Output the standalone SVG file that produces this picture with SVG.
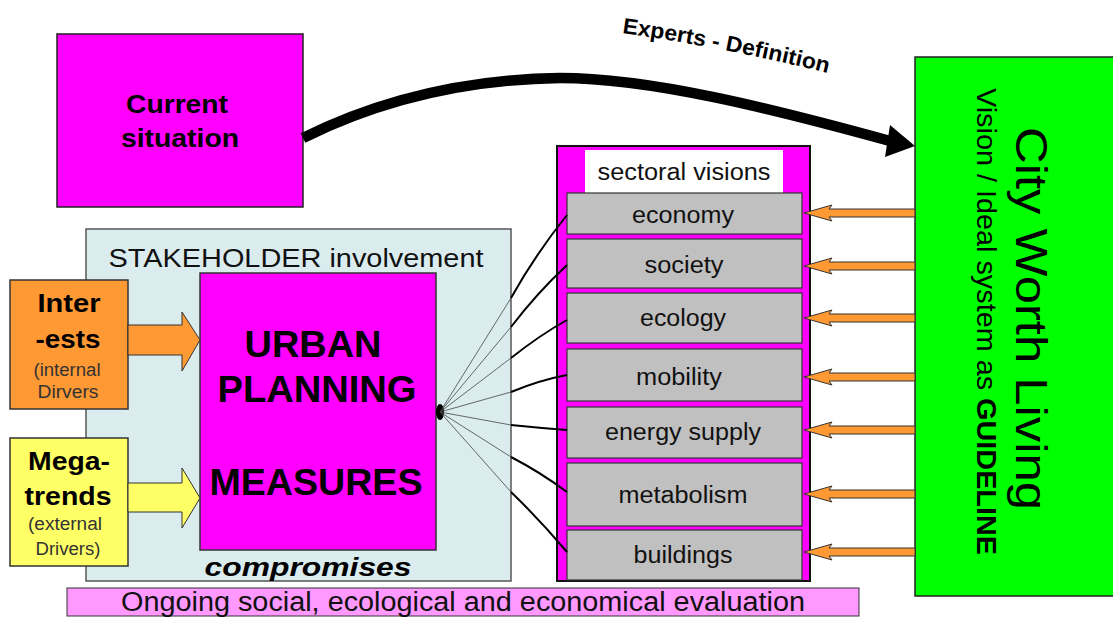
<svg xmlns="http://www.w3.org/2000/svg" width="1113" height="618" viewBox="0 0 1113 618">
  <style>
    .sans { font-family: "Liberation Sans", Arial, sans-serif; }
    .box { stroke: #222; stroke-width: 1.5; }
    .sector { fill: #c0c0c0; stroke: #333; stroke-width: 1.2; }
    .sector-label { font-family: "Liberation Sans", Arial, sans-serif; font-size: 23px; fill: #111; text-anchor: middle; }
    .guide { fill: #ff9933; stroke: #333; stroke-width: 1; }
    .fan-thin { stroke: #444; stroke-width: 0.8; fill: none; }
    .fan-thick { stroke: #000; stroke-width: 2; fill: none; }
    .driver-small { font-family: "Liberation Sans", Arial, sans-serif; font-size: 18px; fill: #333; text-anchor: middle; }
    .driver-big { font-family: "Liberation Sans", Arial, sans-serif; font-size: 26px; font-weight: bold; fill: #000; text-anchor: middle; }
  </style>
  <defs>
    <path id="expertsPath" d="M 622 33 Q 722 47 832 74"/>
  </defs>
  <rect width="1113" height="618" fill="#ffffff"/>

  <!-- stakeholder frame -->
  <g id="stakeholder">
    <rect x="86" y="229" width="425" height="352" fill="#dbecee" stroke="#555" stroke-width="1.5"/>
    <text class="sans" x="296" y="267" font-size="25" text-anchor="middle" textLength="375" lengthAdjust="spacingAndGlyphs" fill="#111">STAKEHOLDER involvement</text>
    <text class="sans" x="308" y="576" font-size="25" font-weight="bold" font-style="italic" text-anchor="middle" textLength="207" lengthAdjust="spacingAndGlyphs" fill="#000">compromises</text>
  </g>

  <!-- current situation -->
  <g id="current-situation">
    <rect class="box" x="57" y="34" width="246" height="173" fill="#ff00ff"/>
    <text class="sans" x="177" y="113" font-size="25" font-weight="bold" text-anchor="middle" textLength="102" lengthAdjust="spacingAndGlyphs">Current</text>
    <text class="sans" x="180" y="147" font-size="25" font-weight="bold" text-anchor="middle" textLength="118" lengthAdjust="spacingAndGlyphs">situation</text>
  </g>

  <!-- internal drivers -->
  <g id="interests">
    <rect x="10" y="280" width="118" height="129" fill="#ff9933" stroke="#333" stroke-width="1.5"/>
    <text class="driver-big" x="69" y="312" textLength="63" lengthAdjust="spacingAndGlyphs">Inter</text>
    <text class="driver-big" x="68" y="348" textLength="65" lengthAdjust="spacingAndGlyphs">-ests</text>
    <text class="driver-small" x="67" y="376" textLength="67" lengthAdjust="spacingAndGlyphs">(internal</text>
    <text class="driver-small" x="68" y="398" textLength="61" lengthAdjust="spacingAndGlyphs">Dirvers</text>
  </g>

  <!-- external drivers -->
  <g id="megatrends">
    <rect x="10" y="438" width="118" height="128" fill="#ffff66" stroke="#333" stroke-width="1.5"/>
    <text class="driver-big" x="69" y="470" textLength="82" lengthAdjust="spacingAndGlyphs">Mega-</text>
    <text class="driver-big" x="68" y="505" textLength="87" lengthAdjust="spacingAndGlyphs">trends</text>
    <text class="driver-small" x="65" y="530" textLength="74" lengthAdjust="spacingAndGlyphs">(external</text>
    <text class="driver-small" x="68" y="555" textLength="65" lengthAdjust="spacingAndGlyphs">Drivers)</text>
  </g>

  <!-- urban planning measures -->
  <g id="urban-planning">
    <rect x="200" y="273" width="236" height="277" fill="#ff00ff" stroke="#333" stroke-width="1.5"/>
    <text class="sans" x="313" y="357" font-size="37" font-weight="bold" text-anchor="middle" textLength="137" lengthAdjust="spacingAndGlyphs">URBAN</text>
    <text class="sans" x="317" y="402" font-size="37" font-weight="bold" text-anchor="middle" textLength="199" lengthAdjust="spacingAndGlyphs">PLANNING</text>
    <text class="sans" x="316" y="495" font-size="37" font-weight="bold" text-anchor="middle" textLength="213" lengthAdjust="spacingAndGlyphs">MEASURES</text>
  </g>

  <!-- sectoral visions column -->
  <g id="sectoral-visions">
    <rect x="557" y="146" width="253" height="435" fill="#ff00ff" stroke="#111" stroke-width="2"/>
    <rect x="585" y="150" width="198" height="43" fill="#ffffff"/>
    <text class="sector-label" x="684" y="180" textLength="173" lengthAdjust="spacingAndGlyphs">sectoral visions</text>
  </g>
  <g id="economy">
    <rect class="sector" x="567" y="193" width="235" height="41"/>
    <text class="sector-label" x="683" y="223" textLength="102" lengthAdjust="spacingAndGlyphs">economy</text>
  </g>
  <g id="society">
    <rect class="sector" x="567" y="239" width="235" height="49"/>
    <text class="sector-label" x="684" y="273" textLength="79" lengthAdjust="spacingAndGlyphs">society</text>
  </g>
  <g id="ecology">
    <rect class="sector" x="567" y="293" width="235" height="50"/>
    <text class="sector-label" x="683" y="326" textLength="86" lengthAdjust="spacingAndGlyphs">ecology</text>
  </g>
  <g id="mobility">
    <rect class="sector" x="567" y="349" width="235" height="52"/>
    <text class="sector-label" x="679" y="385" textLength="86" lengthAdjust="spacingAndGlyphs">mobility</text>
  </g>
  <g id="energy-supply">
    <rect class="sector" x="567" y="407" width="235" height="51"/>
    <text class="sector-label" x="683" y="440" textLength="156" lengthAdjust="spacingAndGlyphs">energy supply</text>
  </g>
  <g id="metabolism">
    <rect class="sector" x="567" y="463" width="235" height="63"/>
    <text class="sector-label" x="683" y="503" textLength="129" lengthAdjust="spacingAndGlyphs">metabolism</text>
  </g>
  <g id="buildings">
    <rect class="sector" x="567" y="530" width="235" height="50"/>
    <text class="sector-label" x="683" y="563" textLength="99" lengthAdjust="spacingAndGlyphs">buildings</text>
  </g>

  <!-- city worth living guideline -->
  <g id="city-worth-living">
    <rect x="915" y="57" width="210" height="539" fill="#00ff00" stroke="#222" stroke-width="1.5"/>
    <text class="sans" transform="translate(1016,127) rotate(90)" x="0" y="0" font-size="45" textLength="383" lengthAdjust="spacingAndGlyphs">City Worth Living</text>
    <text class="sans" transform="translate(977,88) rotate(90)" x="0" y="0" font-size="28" textLength="467" lengthAdjust="spacingAndGlyphs">Vision / Ideal system as <tspan font-weight="bold">GUIDELINE</tspan></text>
  </g>

  <!-- evaluation bar -->
  <g id="evaluation">
    <rect x="67" y="588" width="792" height="28" fill="#ff99ff" stroke="#333" stroke-width="1"/>
    <text class="sans" x="463" y="611" font-size="27" text-anchor="middle" textLength="684" lengthAdjust="spacingAndGlyphs" fill="#111">Ongoing social, ecological and economical evaluation</text>
  </g>

  <!-- connectors -->
  <g id="connectors">
    <!-- experts definition: current situation to guideline -->
    <path d="M 303 138 Q 420 80 560 78 C 650 78 770 108 890 141" fill="none" stroke="#000" stroke-width="10.5"/>
    <polygon points="915,146 890,125 885,157" fill="#000"/>
    <text class="sans" font-size="22" font-weight="bold" fill="#000"><textPath href="#expertsPath" textLength="210" lengthAdjust="spacingAndGlyphs">Experts - Definition</textPath></text>

    <!-- drivers into planning -->
    <polygon points="128,325 182,325 182,312 200,340 182,371 182,355 128,355" fill="#ff9933" stroke="#333" stroke-width="1"/>
    <polygon points="128,483 182,483 182,468 200,498 182,528 182,512 128,512" fill="#ffff66" stroke="#333" stroke-width="1"/>

    <!-- planning fans out to sectors -->
    <ellipse cx="440" cy="412" rx="4" ry="8" fill="#000"/>
    <path class="fan-thin" d="M 440 412 L 511 298 M 440 412 L 511 327 M 440 412 L 511 358 M 440 412 L 511 392 M 440 412 L 511 425 M 440 412 L 511 457 M 440 412 L 511 492"/>
    <path class="fan-thick" d="M 511 298 Q 535 255 567 215 M 511 327 Q 537 293 567 265 M 511 358 Q 540 335 567 320 M 511 392 Q 540 380 567 375 M 511 425 Q 540 428 567 430 M 511 457 Q 540 472 567 492 M 511 492 Q 540 520 567 552"/>

    <!-- guideline feeds each sector -->
    <polygon class="guide" points="804,213 832,205 829,209 915,209 915,217 829,217 832,221"/>
    <polygon class="guide" points="804,266 832,258 829,262 915,262 915,270 829,270 832,274"/>
    <polygon class="guide" points="804,318 832,310 829,314 915,314 915,322 829,322 832,326"/>
    <polygon class="guide" points="804,377 832,369 829,373 915,373 915,381 829,381 832,385"/>
    <polygon class="guide" points="804,430 832,422 829,426 915,426 915,434 829,434 832,438"/>
    <polygon class="guide" points="804,494 832,486 829,490 915,490 915,498 829,498 832,502"/>
    <polygon class="guide" points="804,552 832,544 829,548 915,548 915,556 829,556 832,560"/>
  </g>
</svg>
